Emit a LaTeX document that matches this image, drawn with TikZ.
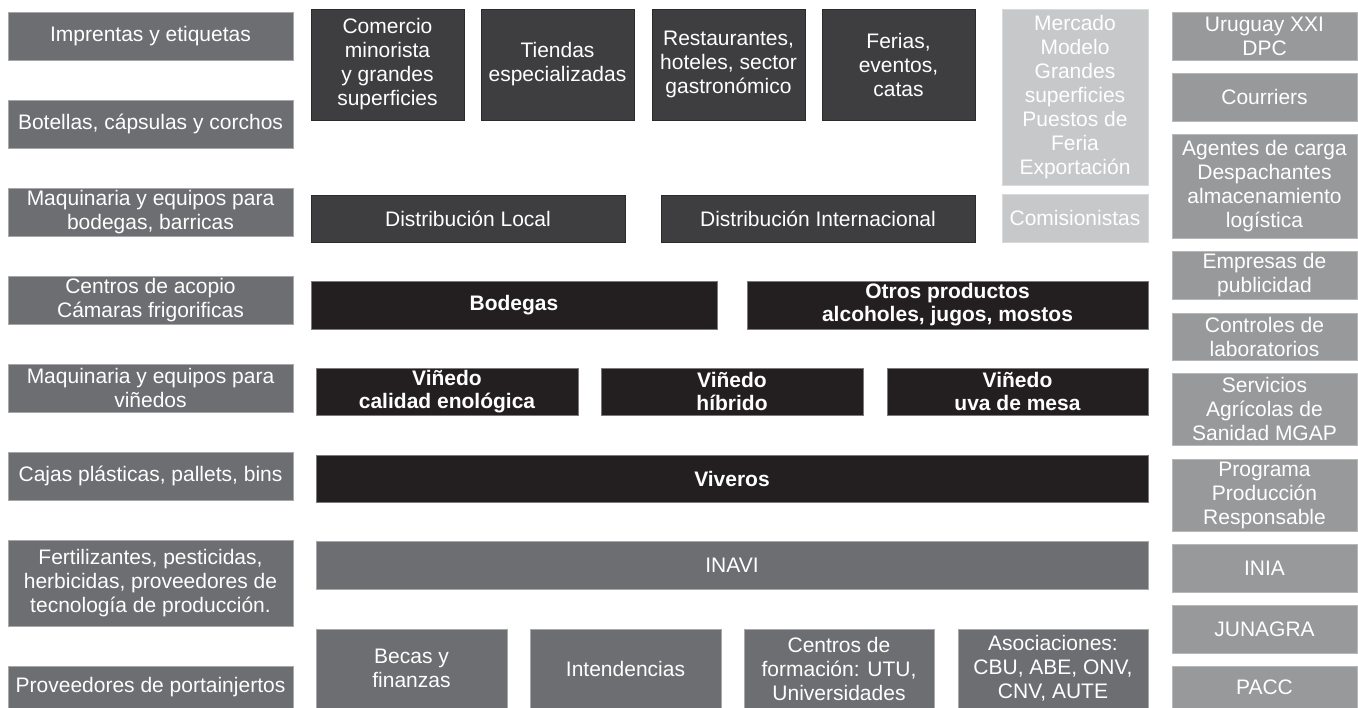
\documentclass[tikz,border=0pt]{standalone}
\usepackage{fontspec}
\setmainfont{Liberation Sans}
\usepackage{tikz}
\definecolor{supplygray}{HTML}{6D6E71}
\definecolor{outletgray}{HTML}{3E3D40}
\definecolor{coreblack}{HTML}{231F20}
\definecolor{marketgray}{HTML}{C7C8CA}
\definecolor{servicegray}{HTML}{98999B}
\tikzset{box/.style = {rectangle, inner sep = 0, align = center, text = white,
                       line width = 0.8, font = \fontsize{21}{24}\selectfont}}
\tikzset{supplybox/.style = {box, fill = supplygray, draw = supplygray!60!white}}
\tikzset{outletbox/.style = {box, fill = outletgray, draw = outletgray!70!black}}
\tikzset{corebox/.style = {box, fill = coreblack, draw = coreblack!60!white,
                           font = \fontsize{21}{23}\selectfont\bfseries}}
\tikzset{marketbox/.style = {box, fill = marketgray, draw = marketgray!70!white}}
\tikzset{servicebox/.style = {box, fill = servicegray, draw = servicegray!70!white}}

\begin{document}
\begin{tikzpicture}[x = 1pt, y = -1pt]
      \useasboundingbox (0, 0) rectangle (1358, 708);

      % proveedores
      \node [supplybox, minimum width = 285, minimum height = 48] (imprentas) at (150.5, 36) {Imprentas y etiquetas};
      \node [supplybox, minimum width = 285, minimum height = 48] (botellas) at (150.5, 124) {Botellas, cápsulas y corchos};
      \node [supplybox, minimum width = 285, minimum height = 48] (maqbodega) at (150.5, 212) {Maquinaria y equipos para\\bodegas, barricas};
      \node [supplybox, minimum width = 285, minimum height = 48] (acopio) at (150.5, 300) {Centros de acopio\\Cámaras frigorificas};
      \node [supplybox, minimum width = 285, minimum height = 48] (maqvinedo) at (150.5, 388) {Maquinaria y equipos para\\viñedos};
      \node [supplybox, minimum width = 285, minimum height = 48] (cajas) at (150.5, 476) {Cajas plásticas, pallets, bins};
      \node [supplybox, minimum width = 285, minimum height = 86] (fertil) at (150.5, 583) {Fertilizantes, pesticidas,\\herbicidas, proveedores de\\tecnología de producción.};
      \node [supplybox, minimum width = 285, minimum height = 42] (portainj) at (150.5, 687) {Proveedores de portainjertos};

      % canales
      \node [outletbox, minimum width = 153, minimum height = 111] (comercio) at (387.5, 64.5) {Comercio\\minorista\\y grandes\\superficies};
      \node [outletbox, minimum width = 153, minimum height = 111] (tiendas) at (557.5, 64.5) {Tiendas\\especializadas};
      \node [outletbox, minimum width = 153, minimum height = 111] (restaurantes) at (728.5, 64.5) {Restaurantes,\\hoteles, sector\\gastronómico};
      \node [outletbox, minimum width = 153, minimum height = 111] (ferias) at (898.5, 64.5) {Ferias,\\eventos,\\catas};
      \node [outletbox, minimum width = 314, minimum height = 47] (distlocal) at (468, 218.5) {Distribución Local};
      \node [outletbox, minimum width = 314, minimum height = 47] (distint) at (818, 218.5) {Distribución Internacional};

      \node [marketbox, minimum width = 146, minimum height = 176] (mercado) at (1075, 97) {Mercado\\Modelo\\Grandes\\superficies\\Puestos de\\Feria\\Exportación};
      \node [marketbox, minimum width = 146, minimum height = 48] (comision) at (1075, 218) {Comisionistas};

      % produccion
      \node [corebox, minimum width = 406, minimum height = 48] (bodegas) at (514, 305) {Bodegas};
      \node [corebox, minimum width = 401, minimum height = 48] (otros) at (947.5, 305) {Otros productos\\alcoholes, jugos, mostos};
      \node [corebox, minimum width = 262, minimum height = 47] (calidad) at (447, 391.5) {Viñedo\\calidad enológica};
      \node [corebox, minimum width = 262, minimum height = 47] (hibrido) at (732, 391.5) {Viñedo\\híbrido};
      \node [corebox, minimum width = 261, minimum height = 47] (uvamesa) at (1017.5, 391.5) {Viñedo\\uva de mesa};
      \node [corebox, minimum width = 832, minimum height = 47] (viveros) at (732, 478.5) {Viveros};

      % apoyo
      \node [supplybox, minimum width = 832, minimum height = 48] (inavi) at (732, 565) {INAVI};
      \node [supplybox, minimum width = 191, minimum height = 79] (becas) at (411.5, 668.5) {Becas y\\finanzas};
      \node [supplybox, minimum width = 191, minimum height = 79] (intend) at (625.5, 668.5) {Intendencias};
      \node [supplybox, minimum width = 190, minimum height = 79] (formacion) at (839, 668.5) {Centros de\\formación: UTU,\\Universidades};
      \node [supplybox, minimum width = 190, minimum height = 79] (asoc) at (1053, 668.5) {Asociaciones:\\CBU, ABE, ONV,\\CNV, AUTE};

      % servicios
      \node [servicebox, minimum width = 185, minimum height = 48] (uruguay) at (1264.5, 36) {Uruguay XXI\\DPC};
      \node [servicebox, minimum width = 185, minimum height = 48] (courriers) at (1264.5, 97) {Courriers};
      \node [servicebox, minimum width = 185, minimum height = 104] (agentes) at (1264.5, 186) {Agentes de carga\\Despachantes\\almacenamiento\\logística};
      \node [servicebox, minimum width = 185, minimum height = 48] (publicidad) at (1264.5, 275) {Empresas de\\publicidad};
      \node [servicebox, minimum width = 185, minimum height = 47] (laborat) at (1264.5, 336.5) {Controles de\\laboratorios};
      \node [servicebox, minimum width = 185, minimum height = 72] (mgap) at (1264.5, 409) {Servicios\\Agrícolas de\\Sanidad MGAP};
      \node [servicebox, minimum width = 185, minimum height = 72] (programa) at (1264.5, 495) {Programa\\Producción\\Responsable};
      \node [servicebox, minimum width = 185, minimum height = 48] (inia) at (1264.5, 568) {INIA};
      \node [servicebox, minimum width = 185, minimum height = 48] (junagra) at (1264.5, 629) {JUNAGRA};
      \node [servicebox, minimum width = 185, minimum height = 42] (pacc) at (1264.5, 687) {PACC};
    \end{tikzpicture}
\end{document}
